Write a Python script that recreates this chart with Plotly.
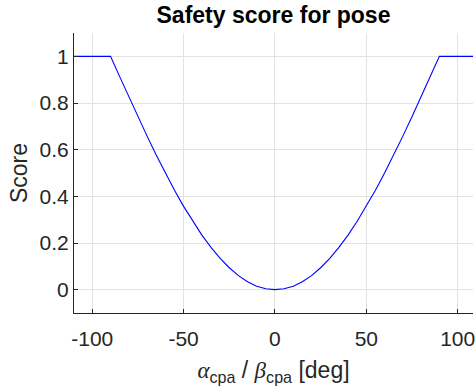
import plotly.graph_objects as go

# Pose angle (deg) and the safety score read at each angle
angle_deg = [-110, -105, -100, -95, -90, -85, -80, -75, -70, -65, -60, -55, -50,
             -45, -40, -35, -30, -25, -20, -15, -10, -5, 0,
             5, 10, 15, 20, 25, 30, 35, 40, 45, 50, 55, 60, 65, 70, 75, 80, 85,
             90, 95, 100, 105, 110]
score = [1.0, 1.0, 1.0, 1.0, 1.0, 0.913, 0.826, 0.741, 0.658, 0.577, 0.5, 0.426, 0.357,
         0.293, 0.234, 0.181, 0.134, 0.094, 0.060, 0.034, 0.015, 0.004, 0.0,
         0.004, 0.015, 0.034, 0.060, 0.094, 0.134, 0.181, 0.234, 0.293, 0.357, 0.426,
         0.5, 0.577, 0.658, 0.741, 0.826, 0.913,
         1.0, 1.0, 1.0, 1.0, 1.0]

x_ticks = [-100, -50, 0, 50, 100]
x_tick_text = ["-100", "-50", "0", "50", "100"]
y_ticks = [0, 0.2, 0.4, 0.6, 0.8, 1]
y_tick_text = ["0", "0.2", "0.4", "0.6", "0.8", "1"]

axis_col = "#262626"
grid_col = "#e3e3e3"
font_fam = "Liberation Sans, Arial, Helvetica, sans-serif"
greek = "font-family:'Liberation Serif','DejaVu Serif',serif;font-style:italic"

fig = go.Figure()
fig.add_trace(go.Scatter(
    x=angle_deg, y=score, mode="lines",
    line=dict(color="#0000ff", width=1.1),
    hoverinfo="skip", showlegend=False,
))

fig.update_layout(
    width=475, height=390,
    margin=dict(l=74, r=0, t=33, b=77),
    paper_bgcolor="white", plot_bgcolor="white",
    font=dict(family=font_fam, color=axis_col, size=21),
    title=dict(text="<b>Safety score for pose</b>", x=0.5, xanchor="center",
               xref="paper", yref="container", y=1 - 15 / 390, yanchor="middle",
               font=dict(size=23, color="black", family=font_fam)),
    xaxis=dict(
        range=[-110, 108.4], tickvals=x_ticks, ticktext=x_tick_text,
        ticks="inside", ticklen=4, tickcolor=axis_col, tickwidth=1,
        ticklabelstandoff=7, ticklabeloverflow="allow",
        showline=True, linecolor=axis_col, linewidth=1,
        showgrid=True, gridcolor=grid_col, gridwidth=1, zeroline=False,
        tickfont=dict(size=21, color=axis_col),
        title=dict(
            text=(f"<span style=\"{greek}\">α</span><sub>cpa</sub> / "
                  f"<span style=\"{greek}\">β</span><sub>cpa</sub> [deg]"),
            font=dict(size=23, color=axis_col), standoff=12),
    ),
    yaxis=dict(
        range=[-0.1, 1.1], tickvals=y_ticks, ticktext=y_tick_text,
        ticks="inside", ticklen=4, tickcolor=axis_col, tickwidth=1,
        showline=True, linecolor=axis_col, linewidth=1,
        showgrid=True, gridcolor=grid_col, gridwidth=1, zeroline=False,
        tickfont=dict(size=21, color=axis_col),
        title=dict(text="Score", font=dict(size=23, color=axis_col), standoff=5),
    ),
)

fig.write_html("out.html")
